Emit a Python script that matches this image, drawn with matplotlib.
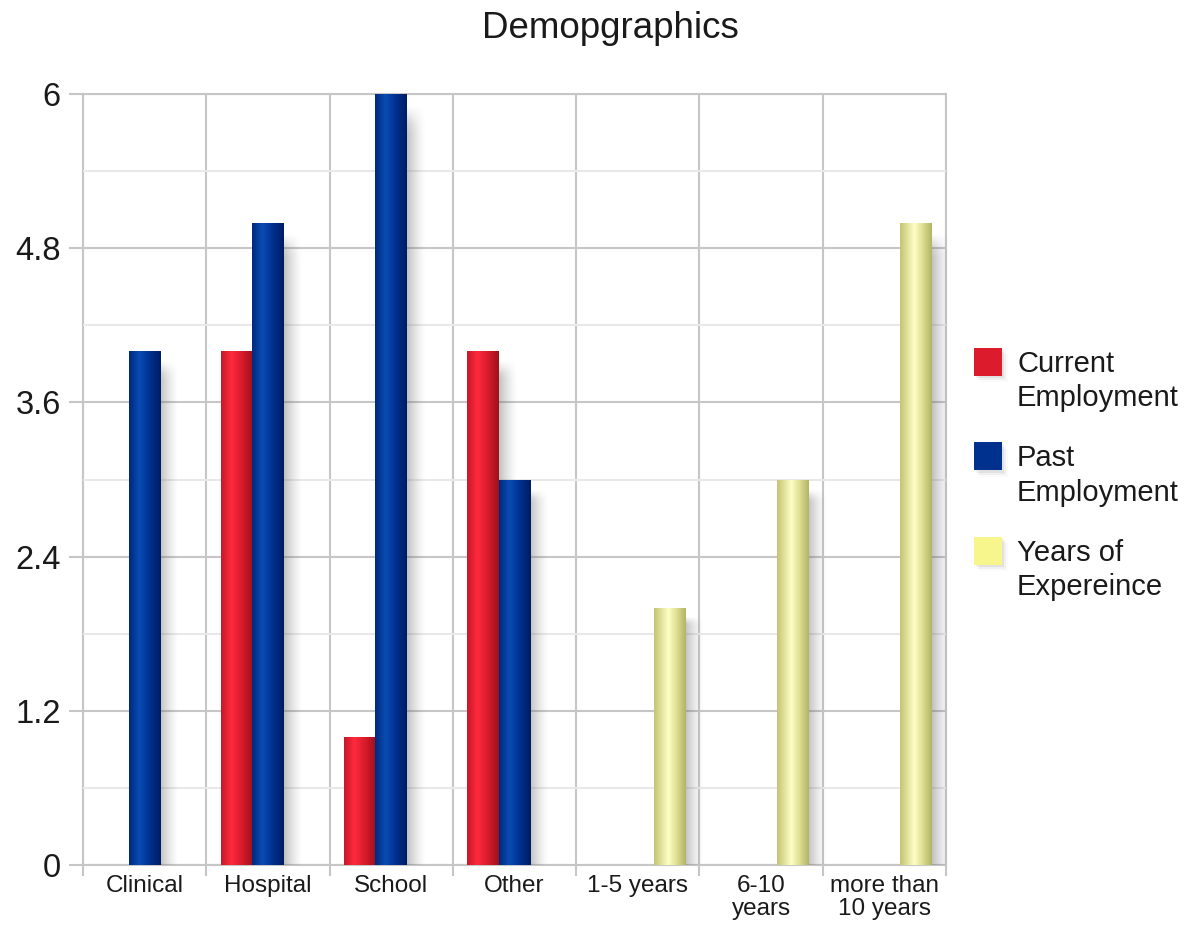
import numpy as np
import matplotlib
matplotlib.use("Agg")
import matplotlib.pyplot as plt
from matplotlib.patches import Rectangle
from matplotlib.colors import LinearSegmentedColormap
from matplotlib.ticker import FixedLocator, MultipleLocator

plt.rcParams['font.family'] = ['Liberation Sans', 'DejaVu Sans']

# data
categories = ["Clinical", "Hospital", "School", "Other", "1-5 years", "6-10\nyears", "more than\n10 years"]
series_names = ["Current\nEmployment", "Past\nEmployment", "Years of\nExpereince"]
current_employment = [0, 4, 1, 4, 0, 0, 0]
past_employment = [4, 5, 6, 3, 0, 0, 0]
years_experience = [0, 0, 0, 0, 2, 3, 5]
y_ticks = [0, 1.2, 2.4, 3.6, 4.8, 6]
y_tick_labels = ["0", "1.2", "2.4", "3.6", "4.8", "6"]

series = [current_employment, past_employment, years_experience]
flat_colors = ["#dc1c2c", "#00318f", "#f6f68c"]
# horizontal gradient (left edge -> highlight -> right edge)
gradients = [
    [(0.0, "#c8182a"), (0.32, "#ff2a3c"), (0.65, "#d81c2c"), (1.0, "#a0101c")],
    [(0.0, "#00297c"), (0.32, "#0a4cb4"), (0.65, "#00318f"), (1.0, "#001c62")],
    [(0.0, "#c4c474"), (0.45, "#ffffc4"), (0.7, "#e0e096"), (1.0, "#b4b464")],
]

grid_col = "#c6c6c6"
text_col = "#1a1a1a"

fig = plt.figure(figsize=(11.98, 9.27), dpi=100)
ax = fig.add_axes([83 / 1198, 62 / 927, 863 / 1198, 771 / 927])

x = np.arange(len(categories))
bw = 0.256
offsets = [-bw, 0, bw]

grad_row = np.linspace(0, 1, 64).reshape(1, -1)

# shadow image: grey fading to the right, soft at the top
sh_w = 0.15
sx = np.linspace(0, 1, 40)
sy = np.linspace(0, 1, 80)
shadow = np.zeros((80, 40, 4))
shadow[..., :3] = 0.42
shadow[..., 3] = (1 - sx[None, :]) ** 1.4 * 0.42 * np.clip(sy[:, None] / 0.03, 0, 1)

for vals, off, g in zip(series, offsets, gradients):
    cmap = LinearSegmentedColormap.from_list("g", g)
    bars = ax.bar(x + off, vals, width=bw, color=g[2][1], edgecolor="none", zorder=3)
    for b in bars:
        h = b.get_height()
        if h <= 0:
            continue
        x0 = b.get_x()
        w = b.get_width()
        ax.imshow(shadow, extent=[x0 + w, x0 + w + sh_w, 0, h - 0.06], aspect="auto",
                  origin="upper", zorder=2, interpolation="bilinear")
        im = ax.imshow(grad_row, cmap=cmap, extent=[x0, x0 + w, 0, h], aspect="auto",
                       zorder=4, interpolation="bilinear")
        im.set_clip_path(b)

ax.set_xlim(-0.5, len(categories) - 0.5)
ax.set_ylim(0, 6)

# ticks and grid
ax.set_xticks(x)
ax.set_xticklabels(categories, fontsize=17.5, color=text_col, linespacing=1.1)
ax.xaxis.set_minor_locator(FixedLocator(np.arange(-0.5, len(categories), 1.0)))
ax.tick_params(axis="x", which="major", length=0, pad=7)
ax.tick_params(axis="x", which="minor", length=8, width=1.5, color=grid_col)
ax.set_yticks(y_ticks)
ax.set_yticklabels(y_tick_labels, fontsize=23.5, color=text_col)
ax.yaxis.set_minor_locator(MultipleLocator(0.6))
ax.tick_params(axis="y", which="major", length=10, width=1.5, color=grid_col, pad=6)
ax.tick_params(axis="y", which="minor", length=0)

ax.set_axisbelow(True)
ax.yaxis.grid(True, which="major", color=grid_col, lw=1.5, zorder=0)
ax.yaxis.grid(True, which="minor", color="#e8e8e8", lw=1.5, zorder=0)
ax.xaxis.grid(True, which="minor", color=grid_col, lw=1.5, zorder=0)
for s in ax.spines.values():
    s.set_color(grid_col)
    s.set_linewidth(1.5)
    s.set_zorder(0.5)

# title
fig.text(610 / 1198, 1 - 29 / 927, "Demopgraphics", ha="center", va="center",
         fontsize=26.5, color=text_col)

# legend
sq = 28
for i, (name, col) in enumerate(zip(series_names, flat_colors)):
    cy = 362 + i * 94.5
    for k, a in enumerate([0.06, 0.04, 0.02]):
        d = 2 + 2 * k
        fig.patches.append(Rectangle(((974 + d) / 1198, 1 - (cy + sq / 2 + d) / 927), sq / 1198, sq / 927,
                                     transform=fig.transFigure, facecolor="#000000", alpha=a,
                                     edgecolor="none"))
    fig.patches.append(Rectangle((974 / 1198, 1 - (cy + sq / 2) / 927), sq / 1198, sq / 927,
                                 transform=fig.transFigure, facecolor=col, edgecolor="none"))
    fig.text(1017 / 1198, 1 - (cy + 19) / 927, name, ha="left", va="center",
             fontsize=21, color=text_col, linespacing=1.3)

fig.savefig("out.png", dpi=100)
